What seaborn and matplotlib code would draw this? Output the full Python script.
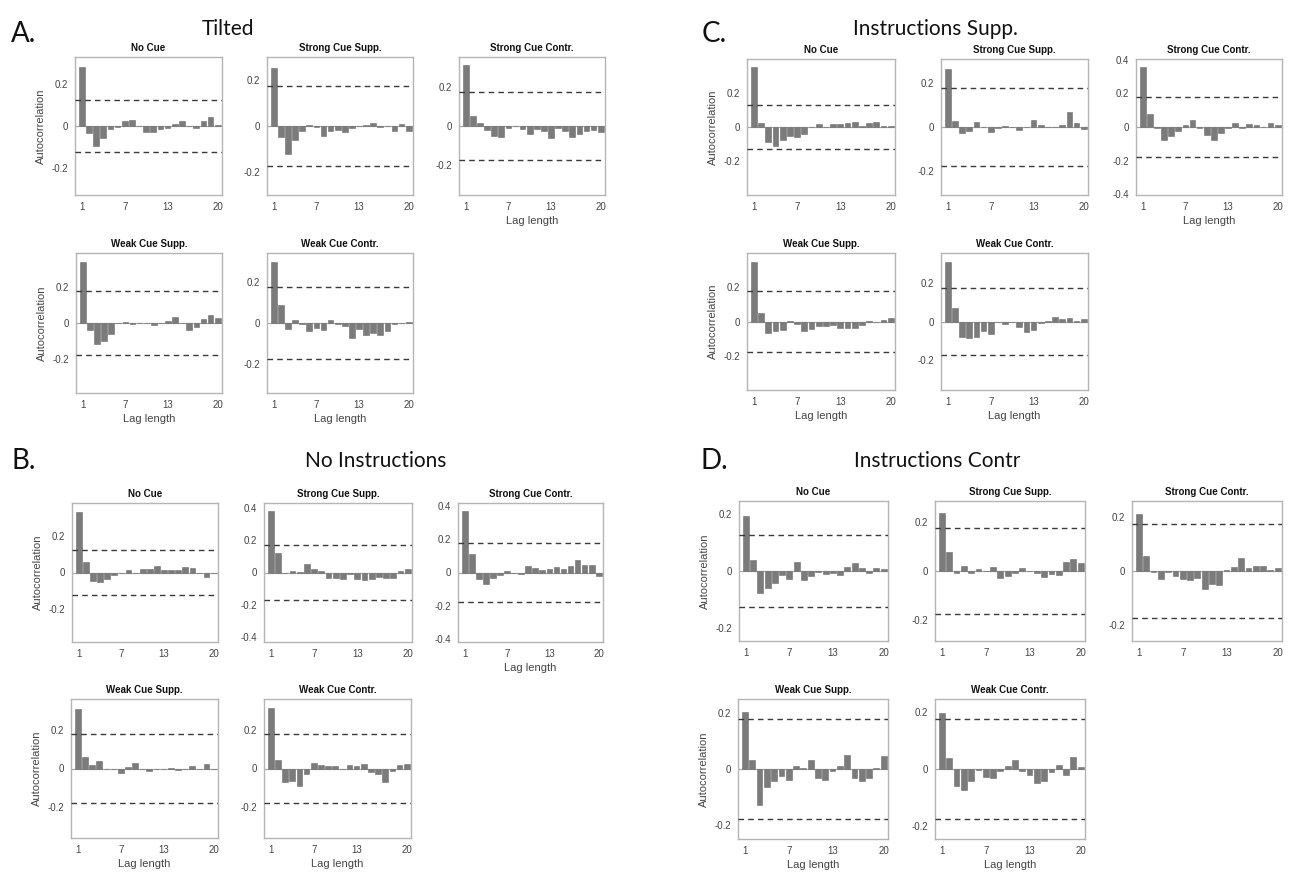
import numpy as np
import pandas as pd
import matplotlib
matplotlib.use("Agg")
import matplotlib.pyplot as plt
import seaborn as sns

# ---------------- data ----------------
lags = list(range(1, 21))
xtick_lags = [1, 7, 13, 20]
panel_titles = ["No Cue", "Strong Cue Supp.", "Strong Cue Contr.",
                "Weak Cue Supp.", "Weak Cue Contr."]
group_titles = ["Tilted", "No Instructions", "Instructions Supp.", "Instructions Contr"]
group_letters = ["A.", "B.", "C.", "D."]

# A. Tilted
tilted_no_cue = [0.284, -0.032, -0.095, -0.059, -0.016, -0.006, 0.024, 0.027, 0.0, -0.029,
                 -0.027, -0.013, -0.008, 0.010, 0.025, -0.002, -0.008, 0.022, 0.043, 0.005]
tilted_strong_supp = [0.254, -0.049, -0.121, -0.059, -0.020, 0.004, -0.003, -0.042, -0.023, -0.017,
                      -0.026, -0.009, -0.002, 0.006, 0.012, -0.004, 0.0, -0.022, 0.009, -0.020]
tilted_strong_contr = [0.312, 0.053, 0.016, -0.022, -0.050, -0.059, -0.012, -0.002, -0.014, -0.041,
                       -0.017, -0.024, -0.060, -0.012, -0.026, -0.057, -0.043, -0.026, -0.022, -0.031]
tilted_weak_supp = [0.341, -0.037, -0.117, -0.102, -0.061, 0.0, 0.006, -0.003, -0.002, 0.0,
                    -0.009, 0.0, 0.009, 0.035, 0.0, -0.037, -0.020, 0.024, 0.045, 0.028]
tilted_weak_contr = [0.297, 0.087, -0.030, 0.013, -0.007, -0.038, -0.025, -0.033, 0.016, -0.003,
                     -0.015, -0.072, -0.030, -0.057, -0.048, -0.057, -0.041, -0.007, 0.002, 0.007]

# B. No Instructions
noinstr_no_cue = [0.329, 0.060, -0.044, -0.051, -0.033, -0.016, -0.002, 0.011, 0.0, 0.018,
                  0.018, 0.035, 0.011, 0.011, 0.013, 0.031, 0.024, 0.0, -0.025, -0.002]
noinstr_strong_supp = [0.379, 0.120, 0.0, 0.010, 0.003, 0.052, 0.021, 0.008, -0.033, -0.035,
                       -0.043, -0.008, -0.043, -0.049, -0.043, -0.025, -0.033, -0.033, 0.012, 0.021]
noinstr_strong_contr = [0.371, 0.109, -0.042, -0.067, -0.036, -0.018, 0.008, 0.0, -0.008, 0.038,
                        0.026, 0.018, 0.020, 0.032, 0.020, 0.038, 0.073, 0.048, 0.048, -0.024]
noinstr_weak_supp = [0.306, 0.060, 0.019, 0.041, 0.0, -0.005, -0.024, 0.010, 0.026, -0.003,
                     -0.015, 0.0, 0.0, 0.005, -0.007, 0.0, 0.015, 0.0, 0.024, 0.0]
noinstr_weak_contr = [0.313, 0.042, -0.071, -0.063, -0.092, -0.028, 0.031, 0.019, 0.012, 0.012,
                      0.0, 0.017, 0.012, 0.023, -0.016, -0.028, -0.070, -0.014, 0.017, 0.023]

# C. Instructions Supp.
supp_no_cue = [0.351, 0.025, -0.086, -0.109, -0.074, -0.053, -0.057, -0.039, 0.0, 0.018,
               0.0, 0.018, 0.016, 0.023, 0.031, 0.008, 0.021, 0.031, 0.006, 0.003]
supp_strong_supp = [0.259, 0.029, -0.027, -0.018, 0.024, -0.002, -0.021, -0.006, 0.006, 0.0,
                    -0.012, -0.002, 0.030, 0.011, 0.0, 0.0, 0.009, 0.066, 0.020, -0.009]
supp_strong_contr = [0.358, 0.075, -0.006, -0.075, -0.053, -0.024, 0.012, 0.040, -0.003, -0.049,
                     -0.075, -0.038, -0.006, 0.026, -0.003, 0.018, 0.012, 0.002, 0.022, 0.010]
supp_weak_supp = [0.352, 0.051, -0.070, -0.057, -0.047, 0.003, -0.012, -0.053, -0.043, -0.027,
                  -0.027, -0.021, -0.037, -0.037, -0.039, -0.021, 0.001, 0.0, 0.008, 0.018]
supp_weak_contr = [0.308, 0.069, -0.081, -0.088, -0.081, -0.050, -0.066, 0.0, -0.014, 0.0,
                   -0.028, -0.052, -0.043, -0.010, 0.002, 0.021, 0.014, 0.016, 0.002, 0.012]

# D. Instructions Contr
contr_no_cue = [0.195, 0.040, -0.077, -0.058, -0.041, -0.014, -0.027, 0.032, -0.033, -0.016,
                -0.005, -0.012, -0.007, -0.014, 0.015, 0.027, 0.010, -0.008, 0.009, 0.006]
contr_strong_supp = [0.239, 0.077, -0.008, 0.021, -0.008, 0.007, 0.0, 0.018, -0.029, -0.022,
                     -0.008, 0.011, -0.002, -0.008, -0.025, -0.012, -0.018, 0.036, 0.051, 0.032]
contr_strong_contr = [0.209, 0.056, -0.002, -0.031, -0.002, -0.018, -0.028, -0.032, -0.025, -0.067,
                      -0.049, -0.052, 0.003, 0.015, 0.048, 0.010, 0.020, 0.018, 0.002, 0.010]
contr_weak_supp = [0.202, 0.031, -0.128, -0.064, -0.044, -0.024, -0.039, 0.010, 0.005, 0.031,
                   -0.032, -0.039, -0.006, 0.011, 0.050, -0.033, -0.043, -0.032, 0.002, 0.047]
contr_weak_contr = [0.196, 0.040, -0.061, -0.075, -0.042, -0.004, -0.028, -0.033, -0.007, 0.009,
                    0.032, -0.007, -0.022, -0.048, -0.041, -0.009, 0.014, -0.022, 0.041, 0.008]

# confidence bounds (+/-) and symmetric y-limits per panel
tilted_bounds = [0.125, 0.175, 0.176, 0.178, 0.177]
noinstr_bounds = [0.125, 0.172, 0.176, 0.178, 0.178]
supp_bounds = [0.126, 0.175, 0.176, 0.181, 0.176]
contr_bounds = [0.125, 0.175, 0.174, 0.177, 0.177]

tilted_ylims = [0.33, 0.30, 0.355, 0.39, 0.343]
noinstr_ylims = [0.38, 0.43, 0.42, 0.357, 0.362]
supp_ylims = [0.398, 0.306, 0.403, 0.402, 0.356]
contr_ylims = [0.246, 0.288, 0.258, 0.25, 0.246]

ticks_small = [-0.2, 0, 0.2]
ticks_big = [-0.4, -0.2, 0, 0.2, 0.4]

groups = [
    dict(series=[tilted_no_cue, tilted_strong_supp, tilted_strong_contr, tilted_weak_supp, tilted_weak_contr],
         bounds=tilted_bounds, ylims=tilted_ylims,
         ticks=[ticks_small] * 5),
    dict(series=[noinstr_no_cue, noinstr_strong_supp, noinstr_strong_contr, noinstr_weak_supp, noinstr_weak_contr],
         bounds=noinstr_bounds, ylims=noinstr_ylims,
         ticks=[ticks_small, ticks_big, ticks_big, ticks_small, ticks_small]),
    dict(series=[supp_no_cue, supp_strong_supp, supp_strong_contr, supp_weak_supp, supp_weak_contr],
         bounds=supp_bounds, ylims=supp_ylims,
         ticks=[ticks_small, ticks_small, ticks_big, ticks_small, ticks_small]),
    dict(series=[contr_no_cue, contr_strong_supp, contr_strong_contr, contr_weak_supp, contr_weak_contr],
         bounds=contr_bounds, ylims=contr_ylims,
         ticks=[ticks_small] * 5),
]

# ---------------- layout (pixel boxes: left, top, right, bottom) ----------------
W, H = 1297, 875
boxes = [
    [(75, 57, 222, 195), (267, 57, 413, 195), (459, 57, 605, 195),
     (76, 253, 222, 393), (267, 253, 413, 393)],
    [(72, 503, 218, 642), (264, 503, 412, 642), (458, 503, 603, 642),
     (71, 699, 218, 838), (264, 699, 411, 838)],
    [(747, 59, 895, 195), (941, 59, 1088, 195), (1136, 59, 1282, 195),
     (747, 253, 895, 390), (941, 253, 1088, 390)],
    [(739, 501, 888, 641), (935, 501, 1085, 641), (1132, 501, 1282, 641),
     (738, 699, 888, 839), (935, 699, 1085, 839)],
]
title_pos = [(228, 29), (376, 461), (935, 29), (937, 461)]
letter_pos = [(24, 34), (24, 461), (714, 34), (714, 461)]
xlabel_on_strong_contr = [True, True, True, False]

sns.set_theme(style="white")
plt.rcParams["font.family"] = ["Liberation Sans", "DejaVu Sans"]
plt.rcParams["axes.unicode_minus"] = False

BAR = "#7b7b7b"
TXT = "#444444"

fig = plt.figure(figsize=(W / 100, H / 100), dpi=100)
fig.patch.set_facecolor("white")


def fmt(v):
    return "0" if abs(v) < 1e-9 else f"{v:.1f}"


for gi, g in enumerate(groups):
    for pi in range(5):
        l, t, r, b = boxes[gi][pi]
        ax = fig.add_axes([l / W, 1 - b / H, (r - l) / W, (b - t) / H])
        df = pd.DataFrame({"lag": lags, "acf": g["series"][pi]})
        sns.barplot(data=df, x="lag", y="acf", native_scale=True, color=BAR,
                    saturation=1, width=0.8, errorbar=None,
                    edgecolor="#6e6e6e", linewidth=0.4, ax=ax)
        ax.axhline(0, color="#a8a8a8", lw=0.9, zorder=0.5)
        bd = g["bounds"][pi]
        for yv in (bd, -bd):
            ax.axhline(yv, color="#3a3a3a", lw=1.0, ls=(0, (4, 3)), zorder=3)
        lim = g["ylims"][pi]
        ax.set_ylim(-lim, lim)
        ax.set_xlim(0.05, 20.6)
        ax.set_xticks(xtick_lags)
        ax.set_xticklabels([str(v) for v in xtick_lags])
        tk = g["ticks"][pi]
        ax.set_yticks(tk)
        ax.set_yticklabels([fmt(v) for v in tk])
        ax.tick_params(axis="both", length=0, labelsize=7, colors=TXT, pad=5)
        for sp in ax.spines.values():
            sp.set_visible(True)
            sp.set_color("#b5b5b5")
            sp.set_linewidth(1.0)
        ax.set_title(panel_titles[pi], fontsize=7, fontweight="bold", color="#111111", pad=4)
        if pi in (0, 3):
            ax.set_ylabel("Autocorrelation", fontsize=8, color=TXT, labelpad=4)
        else:
            ax.set_ylabel("")
        if pi >= 3 or (pi == 2 and xlabel_on_strong_contr[gi]):
            ax.set_xlabel("Lag length", fontsize=8, color=TXT, labelpad=3)
        else:
            ax.set_xlabel("")

    tx, ty = title_pos[gi]
    fig.text(tx / W, 1 - ty / H, group_titles[gi], ha="center", va="center",
             fontsize=15, family=["Lato", "DejaVu Sans"], color="#111111")
    lx, ly = letter_pos[gi]
    fig.text(lx / W, 1 - ly / H, group_letters[gi], ha="center", va="center",
             fontsize=20, family=["Lato", "DejaVu Sans"], color="#111111")

fig.savefig("out.png", dpi=100, facecolor="white")
